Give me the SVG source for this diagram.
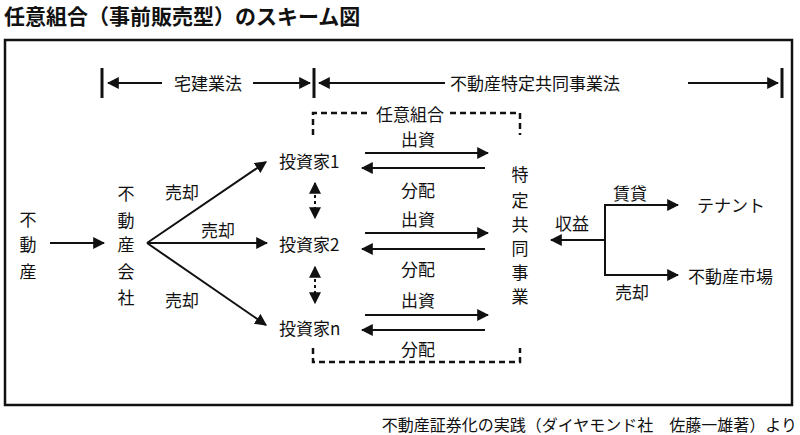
<svg xmlns="http://www.w3.org/2000/svg" width="800" height="435" viewBox="0 0 800 435">
<style>
text{font-family:"Noto Sans CJK JP","Noto Sans",sans-serif;font-size:17px;fill:#111;dominant-baseline:central}
.m{text-anchor:middle}
.l{stroke:#111;stroke-width:2;fill:none}
.d{stroke:#111;stroke-width:2.5;fill:none;stroke-dasharray:6 4}
.t{stroke:#111;stroke-width:3}
</style>
<defs>
<marker id="a" viewBox="0 0 10 10" refX="9" refY="5" markerWidth="6" markerHeight="6" orient="auto-start-reverse"><path d="M0,0L10,5L0,10z" fill="#111"/></marker>
</defs>
<rect width="800" height="435" fill="#fff"/>
<text x="4" y="15" style="font-weight:bold;font-size:21px">任意組合（事前販売型）のスキーム図</text>
<rect x="5" y="40" width="787" height="365" fill="none" stroke="#111" stroke-width="2.5"/>
<text x="797" y="424" style="text-anchor:end;font-size:16px">不動産証券化の実践（ダイヤモンド社　佐藤一雄著）より</text>
<g id="connectors">
<line class="t" x1="102" y1="68" x2="102" y2="98"/>
<line class="t" x1="314" y1="68" x2="314" y2="98"/>
<line class="t" x1="782" y1="68" x2="782" y2="98"/>
<line class="l" x1="162" y1="83" x2="108" y2="83" marker-end="url(#a)"/>
<line class="l" x1="253" y1="83" x2="310" y2="83" marker-end="url(#a)"/>
<line class="l" x1="445" y1="83" x2="319" y2="83" marker-end="url(#a)"/>
<line class="l" x1="688" y1="83" x2="778" y2="83" marker-end="url(#a)"/>
<path class="d" d="M313,135V113H370M450,113H520V135"/>
<path class="d" d="M313,348V362H520V348"/>
<line class="l" x1="50" y1="243" x2="104" y2="243" marker-end="url(#a)"/>
<line class="l" x1="147" y1="243" x2="266" y2="162" marker-end="url(#a)"/>
<line class="l" x1="147" y1="243" x2="267" y2="243" marker-end="url(#a)"/>
<line class="l" x1="147" y1="243" x2="266" y2="325" marker-end="url(#a)"/>
<line x1="315" y1="183" x2="315" y2="218" stroke="#111" stroke-width="2" stroke-dasharray="3 3" marker-start="url(#a)" marker-end="url(#a)"/>
<line x1="315" y1="267" x2="315" y2="303" stroke="#111" stroke-width="2" stroke-dasharray="3 3" marker-start="url(#a)" marker-end="url(#a)"/>
<line class="l" x1="365" y1="153" x2="488" y2="153" marker-end="url(#a)"/>
<line class="l" x1="485" y1="168" x2="362" y2="168" marker-end="url(#a)"/>
<line class="l" x1="365" y1="233" x2="488" y2="233" marker-end="url(#a)"/>
<line class="l" x1="485" y1="249" x2="362" y2="249" marker-end="url(#a)"/>
<line class="l" x1="365" y1="315" x2="488" y2="315" marker-end="url(#a)"/>
<line class="l" x1="485" y1="330" x2="362" y2="330" marker-end="url(#a)"/>
<line class="l" x1="605" y1="240" x2="551" y2="240" marker-end="url(#a)"/>
<path class="l" d="M605,205V275"/>
<line class="l" x1="604" y1="205" x2="678" y2="205" marker-end="url(#a)"/>
<line class="l" x1="604" y1="275" x2="678" y2="275" marker-end="url(#a)"/>
</g>
<text class="m" x="208" y="82">宅建業法</text>
<text class="m" x="535" y="82">不動産特定共同事業法</text>
<text class="m" x="410" y="113">任意組合</text>
<g id="fudosan"><text class="m" x="28" y="218">不</text><text class="m" x="28" y="243">動</text><text class="m" x="28" y="270">産</text></g>
<g id="kaisha"><text class="m" x="126" y="192">不</text><text class="m" x="126" y="219">動</text><text class="m" x="126" y="243">産</text><text class="m" x="126" y="270">会</text><text class="m" x="126" y="296">社</text></g>
<text class="m" x="182" y="191">売却</text>
<text class="m" x="218" y="229">売却</text>
<text class="m" x="182" y="299">売却</text>
<g id="inv1"><text x="279" y="160">投資家1</text></g>
<g id="inv2"><text x="279" y="243">投資家2</text></g>
<g id="invn"><text x="279" y="327">投資家n</text></g>
<text class="m" x="418" y="138">出資</text><text class="m" x="418" y="189">分配</text>
<text class="m" x="418" y="218">出資</text><text class="m" x="418" y="268">分配</text>
<text class="m" x="418" y="299">出資</text><text class="m" x="418" y="348">分配</text>
<g id="jigyo"><text class="m" x="520" y="173">特</text><text class="m" x="520" y="199">定</text><text class="m" x="520" y="223">共</text><text class="m" x="520" y="247">同</text><text class="m" x="520" y="271">事</text><text class="m" x="520" y="295">業</text></g>
<text class="m" x="572" y="222">収益</text>
<text class="m" x="630" y="192">賃貸</text>
<text class="m" x="632" y="291">売却</text>
<g id="tenant"><text x="697" y="204">テナント</text></g>
<g id="market"><text x="688" y="275">不動産市場</text></g>
</svg>
